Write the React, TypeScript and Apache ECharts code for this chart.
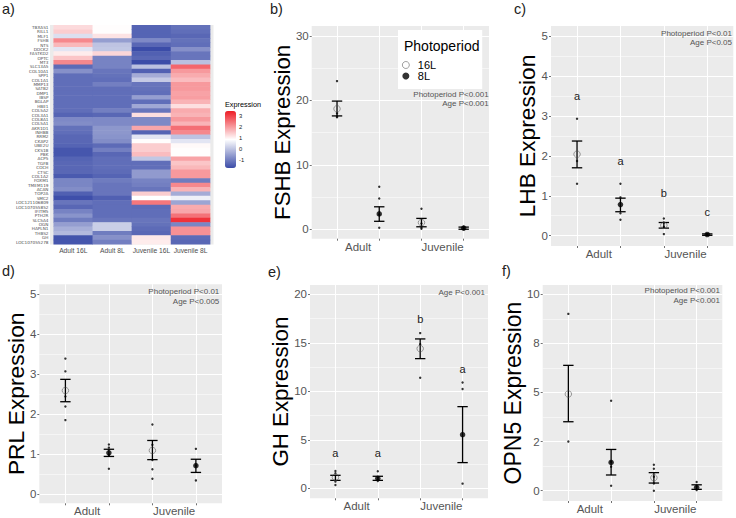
import React, { useEffect, useRef } from "react";
import * as echarts from "echarts";

const FONT = "'Liberation Sans', Arial, sans-serif";

const genes = ["TBXAS1","RILL1","MLF1","FSHB","NTS","DOCK2","FASTKD2","OPTC","MT3","SLC13A5","COL10A1","SPP1","COL1A1","MMP13","SATB2","DMP1","IBSP","BGLAP","HBE1","COL5A2","COL3A1","COL8A1","COL5A1","AKR1D1","INHBB","RRM2","CKAP2","UBE2U","CKS1B","PBK","ACP5","TGFB","COCH","CTSC","COL1A2","FOXM1","TMEM119","ACAN","TOP2A","SMC2","LOC121106809","LOC107055852","IFITM5","PTH2R","SLC5A4","OGN","HAPLN1","THBS2","GH","LOC107055278"];
const heatColumns = ["Adult 16L","Adult 8L","Juvenile 16L","Juvenile 8L"];
const adult16 = [1.35,1.5,0.45,2.3,1.75,0.55,1.15,1.6,2.3,-1.25,-0.7,-1.2,-1.2,-1.2,-1.2,-1.2,-1.2,-1.2,-1.2,-1.2,-1.35,-0.8,-0.75,-1.15,-1.2,-1.3,-1.3,-1.35,-1.55,-1.55,-1.35,-1.3,-1.3,-1.3,-1.5,-0.85,-0.85,-0.75,-1.4,-1.65,-1.1,-1.3,-0.9,-0.65,-1.0,-0.5,-0.25,-0.1,-1.6,-1.55];
const adult8 = [0.95,0.95,1.25,-0.5,0.05,0.1,1.4,-0.9,-0.9,-0.9,-1.1,-1.15,-1.2,-0.95,-1.2,-1.2,-1.2,-1.2,-1.2,-0.95,-1.3,-0.8,-0.8,-0.6,-0.6,-0.65,-0.75,-1.25,-0.95,-1.3,-1.2,-1.2,-1.2,-1.25,-1.35,-1.0,-1.1,-1.1,-1.1,-1.4,-1.2,-1.2,-1.2,-1.2,-1.1,0.2,0.2,-1.0,-0.7,-0.95];
const juvenile16 = [-1.35,-1.35,-1.35,-0.8,-1.3,-1.7,-1.4,-1.3,-1.7,0,-1.4,-0.3,0.15,-1.1,-1.15,-1.2,-0.5,-1.2,-0.35,-1.1,1.3,-0.8,-0.8,1.95,-1.35,0.55,0.95,1.5,1.5,1.7,0.1,-1.2,-1.2,-0.55,-0.55,-0.9,-0.95,-1.1,1.5,0.92,2.5,-1.25,-1.2,-1.2,-1.1,-1.15,-1.25,-1.3,1.2,1.15];
const juvenile8 = [-1.15,-1.2,-1.3,-1.15,-1.2,-0.7,-1.1,-1.1,0,2.7,2.1,1.9,1.7,2.1,2.1,2.0,2.05,1.8,1.3,1.9,1.8,2.1,1.8,2.6,2.3,0.05,0.55,1.0,0.95,0.95,2.0,1.6,1.75,2.1,2.1,-1.0,2.3,1.8,-0.3,0.7,-0.4,1.9,1.95,2.55,3.3,-0.85,2.2,2.2,-1.25,-1.3];
const expressionTicks = [3,2,1,0,-1];

const groupTicks = [1,2,3,4];
const ageLabels = ["Adult","Juvenile"];

const fshbMeans = [18.7,2.4,1.05,0.2];
const fshbLow = [17.6,1.25,0.4,0.02];
const fshbHigh = [19.9,3.5,1.7,0.35];
const fshbPoints = [[23.0,18.0,17.5,17.4],[6.6,4.8,2.3,0.25],[3.2,0.9,0.3,0.1],[0.4,0.1,0.0]];
const fshbTicks = [0,10,20,30];
const fshbMinor = [5,15,25];

const lhbMeans = [2.04,0.78,0.26,0.03];
const lhbLow = [1.7,0.6,0.19,0.01];
const lhbHigh = [2.37,0.94,0.33,0.045];
const lhbPoints = [[2.93,1.87,1.3],[1.3,0.96,0.56,0.4],[0.43,0.33,0.22,0.04],[0.04,0.02]];
const lhbLetters = [["a",3.5],["a",1.88],["b",1.06],["c",0.59]];

const prlMeans = [2.59,1.03,1.09,0.71];
const prlLow = [2.31,0.94,0.86,0.54];
const prlHigh = [2.87,1.12,1.34,0.87];
const prlPoints = [[3.39,3.07,2.44,2.19,1.85],[1.24,1.16,0.98,0.63],[1.74,1.23,0.85,0.62,0.38],[1.13,0.71,0.34]];

const ghMeans = [1.13,1.03,14.4,5.53];
const ghLow = [0.82,0.82,13.37,2.65];
const ghHigh = [1.34,1.24,15.4,8.42];
const ghPoints = [[1.79,1.55,0.69,0.34],[1.75,1.1,0.9,0.76],[16.0,14.85,11.4],[10.9,10.24,0.48]];
const ghLetters = [["a",3.64],["a",3.64],["b",17.5],["a",12.27]];
const ghTicks = [0,5,10,15,20];
const ghMinor = [2.5,7.5,12.5,17.5];

const opn5Means = [4.92,1.44,0.66,0.17];
const opn5Low = [3.51,0.8,0.39,0.07];
const opn5High = [6.38,2.1,0.92,0.3];
const opn5Points = [[9.0,2.5],[4.58,1.47,1.22,0.25],[1.32,1.12,0.71,0.37,0.0],[0.44,0.2,0.03]];
const opn5Ticks = [0,2.5,5,7.5,10];
const opn5TickLabels = ["0","2","5","8","10"];
const opn5Minor = [1.25,3.75,6.25,8.75];

const unitTicks = [0,1,2,3,4,5];
const unitMinor = [0.5,1.5,2.5,3.5,4.5];

const panels = [
  { title:"FSHB Expression", means:fshbMeans, low:fshbLow, high:fshbHigh, points:fshbPoints, ticks:fshbTicks, tickLabels:null, minor:fshbMinor, letters:null, l:311.7, r:489, t:26, b:238.7, min:-1.45, max:31.55, gap:18, size:22.2 },
  { title:"LHB Expression", means:lhbMeans, low:lhbLow, high:lhbHigh, points:lhbPoints, ticks:unitTicks, tickLabels:null, minor:unitMinor, letters:lhbLetters, l:551, r:733.3, t:26, b:246, min:-0.258, max:5.25, gap:13, size:22.7 },
  { title:"PRL Expression", means:prlMeans, low:prlLow, high:prlHigh, points:prlPoints, ticks:unitTicks, tickLabels:null, minor:unitMinor, letters:null, l:39.3, r:222, t:284.3, b:503.3, min:-0.233, max:5.25, gap:11.9, size:22.8 },
  { title:"GH Expression", means:ghMeans, low:ghLow, high:ghHigh, points:ghPoints, ticks:ghTicks, tickLabels:null, minor:ghMinor, letters:ghLetters, l:310, r:488, t:285, b:498.3, min:-1.03, max:20.96, gap:18.3, size:22.3 },
  { title:"OPN5 Expression", means:opn5Means, low:opn5Low, high:opn5High, points:opn5Points, ticks:opn5Ticks, tickLabels:opn5TickLabels, minor:opn5Minor, letters:null, l:542.7, r:722.3, t:285, b:501, min:-0.524, max:10.47, gap:18.5, size:23 },
];

const panelTags = [["a)",2,9],["b)",270,9],["c)",514,9],["d)",2,271],["e)",268,272],["f)",502,271]];
const notes = [
  ["Photoperiod P<0.001",488.7,94],["Age P<0.001",488.7,103.3],
  ["Photoperiod P<0.01",732,33.3],["Age P<0.05",732,42.7],
  ["Photoperiod P<0.01",219.3,291.7],["Age P<0.005",219.3,301.3],
  ["Age P<0.001",485,292],
  ["Photoperiod P<0.001",720,290.3],["Age P<0.001",720,300],
];

function buildOption() {
  const heatData: any[] = [];
  [adult16, adult8, juvenile16, juvenile8].forEach((col, c) => col.forEach((v, r) => heatData.push([c, r, v])));

  const grid: any[] = [{ left: 53.7, top: 25.3, width: 156.4, height: 219 }];
  const xAxis: any[] = [{
    type: "category", gridIndex: 0, data: heatColumns, axisLine: { show: false },
    axisTick: { length: 2, lineStyle: { color: "#333", width: 0.6 }, alignWithLabel: true },
    axisLabel: { fontSize: 6.7, color: "#4d4d4d", margin: 2.5, interval: 0, fontFamily: FONT }, splitLine: { show: false },
  }];
  const yAxis: any[] = [{
    type: "category", gridIndex: 0, data: genes, inverse: true, offset: 3.7, axisLine: { show: false },
    axisTick: { length: 2, lineStyle: { color: "#333", width: 0.6 }, alignWithLabel: true },
    axisLabel: { fontSize: 4.2, color: "#4d4d4d", margin: 1.5, interval: 0, fontFamily: "'DejaVu Sans', sans-serif", hideOverlap: false }, splitLine: { show: false },
  }];
  const series: any[] = [{
    type: "heatmap", xAxisIndex: 0, yAxisIndex: 0, data: heatData, progressive: 0,
    itemStyle: { borderWidth: 0 }, emphasis: { disabled: true },
  }];

  panels.forEach((p, i) => {
    const xi = i + 1;
    const yi = 2 * i + 1;
    grid.push({ left: p.l, top: p.t, width: p.r - p.l, height: p.b - p.t, show: true, backgroundColor: "#EBEBEB", borderWidth: 0 });
    xAxis.push({
      type: "value", gridIndex: xi, min: 0.4, max: 4.6, position: "bottom", axisLine: { show: false, onZero: false },
      axisTick: { show: true, customValues: groupTicks, length: 2, lineStyle: { color: "#333", width: 0.7 } },
      axisLabel: { show: true, customValues: [1.5, 3.5], fontSize: 11.5, color: "#555", margin: 2, fontFamily: FONT,
        formatter: (v: number) => (v < 2 ? ageLabels[0] : ageLabels[1]) },
      splitLine: { show: true, lineStyle: { color: "#fff", width: 1 } },
    });
    yAxis.push({
      type: "value", gridIndex: xi, min: p.min, max: p.max, name: p.title, nameLocation: "middle", nameGap: p.gap, nameMoveOverlap: false,
      nameTextStyle: { fontSize: p.size, color: "#000", fontFamily: FONT }, axisLine: { show: false, onZero: false },
      axisTick: { show: true, customValues: p.ticks, length: 2, lineStyle: { color: "#333", width: 0.7 } },
      axisLabel: { show: true, customValues: p.ticks, fontSize: 11.5, color: "#555", margin: 3, fontFamily: FONT,
        formatter: (v: number) => (p.tickLabels ? p.tickLabels[p.ticks.indexOf(v)] : String(v)) },
      splitLine: { show: true, lineStyle: { color: "#fff", width: 1 } },
    });
    yAxis.push({
      type: "value", gridIndex: xi, position: "left", min: p.min, max: p.max, axisLine: { show: false, onZero: false },
      axisTick: { show: false, customValues: p.minor }, axisLabel: { show: false, customValues: p.minor },
      splitLine: { show: true, lineStyle: { color: "#fff", width: 0.5 } },
    });
    const axes = { xAxisIndex: xi, yAxisIndex: yi };
    const pts: number[][] = [];
    p.points.forEach((vals, g) => vals.forEach((v) => pts.push([groupTicks[g], v])));
    series.push({ type: "scatter", ...axes, name: "Values", data: pts, symbolSize: 2.4, itemStyle: { color: "#000" }, z: 3 });
    series.push({
      type: "custom", ...axes, name: "Error", z: 4,
      data: groupTicks.map((x, g) => [x, p.low[g], p.high[g]]),
      encode: { x: 0, y: [1, 2] },
      renderItem: (_: any, api: any) => {
        const lo = api.coord([api.value(0), api.value(1)]);
        const hi = api.coord([api.value(0), api.value(2)]);
        const st = { stroke: "#000", lineWidth: 1.3 };
        return { type: "group", children: [
          { type: "line", shape: { x1: lo[0], y1: lo[1], x2: hi[0], y2: hi[1] }, style: st },
          { type: "line", shape: { x1: lo[0] - 5.2, y1: lo[1], x2: lo[0] + 5.2, y2: lo[1] }, style: st },
          { type: "line", shape: { x1: hi[0] - 5.2, y1: hi[1], x2: hi[0] + 5.2, y2: hi[1] }, style: st },
        ] };
      },
    });
    series.push({
      type: "scatter", ...axes, name: "16L", z: 5, symbolSize: 6.5,
      data: [[groupTicks[0], p.means[0]], [groupTicks[2], p.means[2]]],
      itemStyle: { color: "rgba(0,0,0,0)", borderColor: "#555", borderWidth: 0.7 },
    });
    series.push({
      type: "scatter", ...axes, name: "8L", z: 5, symbolSize: 5.5,
      data: [[groupTicks[1], p.means[1]], [groupTicks[3], p.means[3]]],
      itemStyle: { color: "#000" },
    });
    if (p.letters) {
      const letterLabel = { show: true, position: "inside", fontSize: 11, color: "#222", fontFamily: FONT, textBorderWidth: 0 };
      series.push({
        type: "scatter", ...axes, name: "Letters", z: 6, symbolSize: 1, itemStyle: { color: "#EBEBEB", opacity: 1 },
        data: p.letters.map((l, g) => ({ value: [groupTicks[g], l[1]], label: { ...letterLabel, formatter: String(l[0]) } })),
        label: letterLabel,
      });
    }
  });

  const graphic: any[] = [
    { type: "rect", z: -10, silent: true, shape: { x: 50, y: 25, width: 163.5, height: 219.6 }, style: { fill: "#EBEBEB" } },
    { type: "text", z: 10, x: 225, y: 104.7, style: { text: "Expression", fontSize: 7.3, fill: "#000", fontFamily: FONT, verticalAlign: "middle" } },
    { type: "text", z: 10, x: 404, y: 45.7, style: { text: "Photoperiod", fontSize: 14, fill: "#000", fontFamily: FONT, verticalAlign: "middle" } },
  ];
  expressionTicks.forEach((t) => {
    graphic.push({ type: "text", z: 10, x: 239, y: 149.3 - t * 11, style: { text: String(t), fontSize: 5.8, fill: "#222", fontFamily: FONT, verticalAlign: "middle" } });
  });
  panelTags.forEach(([text, x, y]) => {
    graphic.push({ type: "text", z: 10, x, y, style: { text, fontSize: 14.5, fill: "#222", fontFamily: FONT, verticalAlign: "middle" } });
  });
  notes.forEach(([text, x, y]) => {
    graphic.push({ type: "text", z: 10, x, y, style: { text, fontSize: 8, fill: "#555", fontFamily: FONT, align: "right", verticalAlign: "middle" } });
  });

  return {
    animation: false,
    backgroundColor: "#fff",
    textStyle: { fontFamily: FONT },
    grid, xAxis, yAxis, series, graphic,
    visualMap: {
      type: "continuous", seriesIndex: 0, min: -1.7, max: 3.55, calculable: false, realtime: false,
      left: 225, top: 111, itemWidth: 11, itemHeight: 57, text: ["", ""], padding: 0, showLabel: false,
      inRange: { color: ["#3B4CA8", "#FFFFFF", "#EE1C25"] },
    },
    legend: {
      data: ["16L", "8L"], orient: "vertical", left: 398, top: 30, itemWidth: 14, itemHeight: 7, itemGap: 0,
      padding: [29.5, 46, 7.5, 4], backgroundColor: "#fff", selectedMode: false, z: 8,
      itemStyle: { borderWidth: 0.7 },
      textStyle: { fontSize: 11, color: "#000", fontFamily: FONT },
    },
  };
}

export default function App() {
  const ref = useRef<HTMLDivElement>(null);
  useEffect(() => {
    const chart = echarts.init(ref.current!, null, { renderer: "svg" });
    chart.setOption(buildOption() as any);
    return () => chart.dispose();
  }, []);
  return <div ref={ref} style={{ position: "fixed", left: 0, top: 0, width: 736, height: 518 }} />;
}
